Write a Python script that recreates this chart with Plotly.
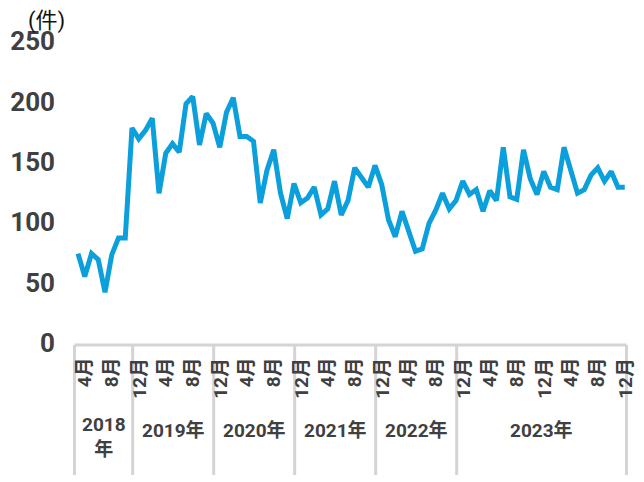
import plotly.graph_objects as go

# monthly counts, 2018/3 .. 2024/12
counts = [
    74, 55, 74, 69, 42, 73, 87, 87, 178, 169,
    176, 186, 124, 157, 165, 158, 198, 204, 164, 190,
    182, 162, 191, 203, 171, 171, 167, 116, 143, 160,
    124, 103, 132, 116, 120, 129, 106, 111, 134, 106,
    118, 145, 137, 129, 147, 131, 102, 88, 109, 92,
    76, 78, 99, 110, 124, 111, 118, 134, 123, 127,
    109, 126, 118, 162, 121, 119, 160, 136, 123, 142,
    129, 127, 162, 143, 124, 127, 139, 145, 134, 142,
    129, 129,
]
idx = list(range(len(counts)))

# every 4th month is labelled, starting from the 2nd point
tick_idx = list(range(1, len(counts), 4))
tick_text = ["4月", "8月", "12月"] * 7

year_labels = ["2018<br>年", "2019年", "2020年", "2021年", "2022年", "2023年"]
year_edges = [-0.52, 8.1, 20.1, 32.1, 44.1, 56.1, 81.26]

GRID = "#d4d4d4"
TXT = "#404040"
FONT = "Roboto, Noto Sans CJK JP, sans-serif"

fig = go.Figure()
fig.add_trace(go.Scatter(
    x=idx, y=counts, mode="lines",
    line=dict(color="#0b9fdc", width=5),
    hoverinfo="skip",
))

# label box under the axis
fig.add_shape(type="line", xref="x", yref="paper",
              x0=year_edges[0], x1=year_edges[-1], y0=-0.007, y1=-0.007,
              line=dict(color=GRID, width=3))
for e in year_edges:
    fig.add_shape(type="line", xref="x", yref="paper",
                  x0=e, x1=e, y0=-0.007, y1=-0.437,
                  line=dict(color=GRID, width=3))

# month labels as rotated annotations so they line up at the top
for t, lab in zip(tick_idx, tick_text):
    fig.add_annotation(x=t, xref="x", y=-0.045, yref="paper",
                       xanchor="center", yanchor="top", textangle=-90,
                       text=lab, showarrow=False, borderpad=0,
                       font=dict(family=FONT, size=19, color=TXT, weight="bold"))

for i, lab in enumerate(year_labels):
    mid = (year_edges[i] + year_edges[i + 1]) / 2
    fig.add_annotation(x=mid, xref="x", y=-0.29 if i else -0.31, yref="paper",
                       xanchor="center", yanchor="middle",
                       text=lab, showarrow=False,
                       font=dict(family=FONT, size=19, color=TXT, weight="bold"))

fig.add_annotation(x=-0.042, xref="paper", y=1.066, yref="paper",
                   xanchor="center", yanchor="middle",
                   text="(件)", showarrow=False,
                   font=dict(family=FONT, size=22, color="#111111"))

# page body has an 8px margin, so the figure is a bit smaller than the window
fig.update_layout(
    width=636, height=474,
    margin=dict(l=62, r=10, t=33, b=139),
    plot_bgcolor="white", paper_bgcolor="white",
    showlegend=False,
    font=dict(family=FONT, color=TXT),
)
fig.update_xaxes(
    range=[-1.185, 82.37], automargin=False,
    showticklabels=False, ticks="",
    showgrid=False, zeroline=False, showline=False,
)
fig.update_yaxes(
    range=[0, 250], tickvals=[0, 50, 100, 150, 200, 250], automargin=False,
    ticklabelstandoff=14,
    tickfont=dict(family=FONT, size=26, color=TXT, weight="bold"),
    showgrid=False, zeroline=False, showline=False, ticks="",
)

fig.write_html("out.html")
